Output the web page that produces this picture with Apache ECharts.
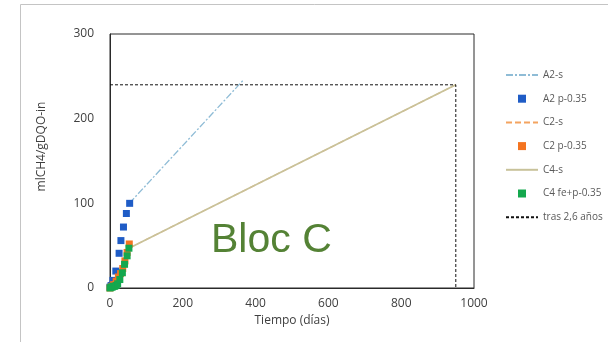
<!DOCTYPE html>
<html>
<head>
<meta charset="utf-8">
<script src="https://cdn.jsdelivr.net/npm/echarts@6/dist/echarts.min.js"></script>
<style>html,body{margin:0;padding:0;background:#fff}#c{width:608px;height:342px}</style>
</head>
<body>
<div id="c"></div>
<script>
// Data
var xTicks = [0, 200, 400, 600, 800, 1000];
var yTicks = [0, 100, 200, 300];
var a2sLine = [[53, 100], [365, 245]];
var a2Days = [0, 3, 8, 16, 25, 30, 37, 45, 54];
var a2Vals = [1, 3, 9, 20, 41, 56, 72, 88, 100];
var c2sLine = [[52, 47], [950, 240]];
var c2Days = [0, 5, 10, 17, 23, 29, 35, 41, 47, 53];
var c2Vals = [0, 2, 4, 8, 13, 17, 23, 32, 42, 52];
var c4sLine = [[52, 47], [950, 240]];
var c4Days = [0, 3, 6, 9, 13, 17, 21, 27, 34, 40, 47, 52];
var c4Vals = [0, 1, 1, 2, 2, 3, 5, 10, 18, 28, 38, 47];
var trasLine = [[0, 240], [950, 240], [950, 0]];
var trasLabels = ['', '240', '950'];

function pairs(xs, ys) { return xs.map(function (x, i) { return [x, ys[i]]; }); }

var chart = echarts.init(document.getElementById('c'), null, {renderer: 'canvas'});
var sq = 'path://M0,0L10,0L10,10L0,10Z';
var font = '"Open Sans", "Liberation Sans", sans-serif';
var hideSym = {opacity: 0};

chart.setOption({
  animation: false,
  backgroundColor: '#fff',
  grid: {left: 110, right: 134, top: 34, bottom: 54, show: true, borderColor: '#2a2a2a', borderWidth: 1},
  xAxis: {
    type: 'value', min: xTicks[0], max: xTicks[xTicks.length - 1], interval: 200,
    name: 'Tiempo (días)', nameLocation: 'middle', nameGap: 27,
    nameTextStyle: {color: '#404040', fontSize: 12, fontFamily: font},
    axisLine: {lineStyle: {color: '#2a2a2a'}}, axisTick: {show: false}, splitLine: {show: false},
    axisLabel: {color: '#404040', fontSize: 12, fontFamily: font, margin: 10,
      formatter: function (v) { return String(v); }}
  },
  yAxis: {
    type: 'value', min: yTicks[0], max: yTicks[yTicks.length - 1], interval: 100,
    name: 'mlCH4/gDQO-in', nameLocation: 'middle', nameGap: 62,
    nameTextStyle: {color: '#404040', fontSize: 12, fontFamily: font, padding: [0, 0, 0, 29]},
    axisLine: {show: true, lineStyle: {color: '#2a2a2a'}}, axisTick: {show: false}, splitLine: {show: false},
    axisLabel: {color: '#404040', fontSize: 12, fontFamily: font, margin: 16}
  },
  legend: {
    orient: 'vertical', left: 500, top: 64, itemWidth: 32, itemHeight: 8, itemGap: 11.7,
    textStyle: {color: '#595959', fontSize: 10, fontFamily: font, lineHeight: 12},
    data: [
      {name: 'A2-s', itemStyle: hideSym}, {name: 'A2 p-0.35', icon: sq},
      {name: 'C2-s', itemStyle: hideSym}, {name: 'C2 p-0.35', icon: sq},
      {name: 'C4-s', itemStyle: hideSym}, {name: 'C4 fe+p-0.35', icon: sq},
      {name: 'tras 2,6 años', itemStyle: hideSym}
    ]
  },
  graphic: [
    {type: 'rect', shape: {x: 20.5, y: 4.5, width: 700, height: 400}, style: {fill: 'none', stroke: '#c4c4c4', lineWidth: 1}, silent: true, z: -1},
    {type: 'text', left: 211, top: 220, style: {text: 'Bloc C', fill: '#548235', font: '41px "Liberation Sans", Arial, sans-serif'}, z: 10}
  ],
  series: [
    {name: 'A2-s', type: 'line', data: a2sLine, symbol: 'none', z: 2,
      lineStyle: {color: '#8fbcd6', width: 1.3, type: [7, 2, 2, 2]}},
    {name: 'A2 p-0.35', type: 'scatter', data: pairs(a2Days, a2Vals), symbol: 'rect', symbolSize: 7, z: 4,
      itemStyle: {color: '#1f5cc6', opacity: 1}},
    {name: 'C2-s', type: 'line', data: c2sLine, symbol: 'none', z: 2,
      lineStyle: {color: '#f4a460', width: 1.2, type: [6, 3]}},
    {name: 'C2 p-0.35', type: 'scatter', data: pairs(c2Days, c2Vals), symbol: 'rect', symbolSize: 7, z: 5,
      itemStyle: {color: '#f47420', opacity: 1}},
    {name: 'C4-s', type: 'line', data: c4sLine, symbol: 'none', z: 3,
      lineStyle: {color: '#c8c29a', width: 1.8}},
    {name: 'C4 fe+p-0.35', type: 'scatter', data: pairs(c4Days, c4Vals), symbol: 'rect', symbolSize: 7, z: 6,
      itemStyle: {color: '#14a84e', opacity: 1}},
    {name: 'tras 2,6 años', type: 'line', symbol: 'none', z: 3,
      data: trasLine.map(function (p, i) {
        return {value: p, label: {show: trasLabels[i] !== '', formatter: trasLabels[i]}};
      }),
      label: {position: 'right', distance: 14, color: '#404040', fontSize: 11, fontFamily: font},
      lineStyle: {color: '#111', width: 1, type: [3, 2]}}
  ]
});
</script>
</body>
</html>
